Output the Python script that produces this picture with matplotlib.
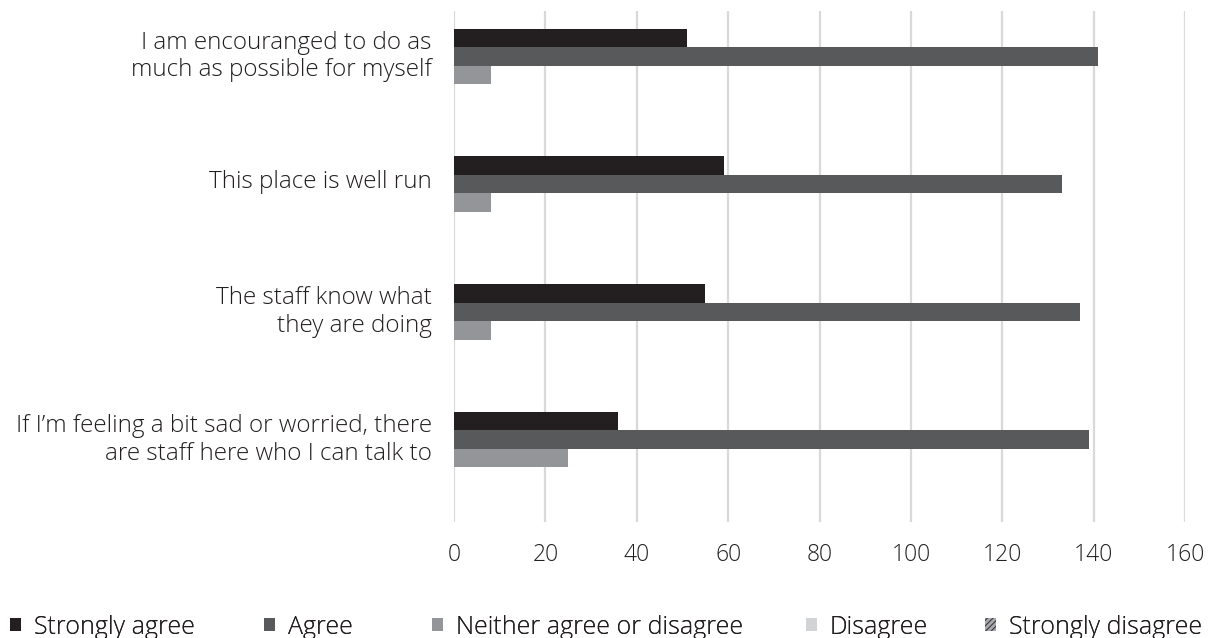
import matplotlib
matplotlib.use("Agg")
import matplotlib.pyplot as plt
import numpy as np

categories = [
    "I am encouranged to do as\nmuch as possible for myself",
    "This place is well run",
    "The staff know what\nthey are doing",
    "If I\u2019m feeling a bit sad or worried, there\nare staff here who I can talk to",
]
series_names = ["Strongly agree", "Agree", "Neither agree or disagree", "Disagree", "Strongly disagree"]
strongly_agree = [51, 59, 55, 36]
agree = [141, 133, 137, 139]
neither = [8, 8, 8, 25]
disagree = [0, 0, 0, 0]
strongly_disagree = [0, 0, 0, 0]
xticks = [0, 20, 40, 60, 80, 100, 120, 140, 160]

values = [strongly_agree, agree, neither, disagree, strongly_disagree]
colors = ["#231f20", "#58595b", "#939598", "#d1d3d4", "#a7a9ac"]
hatches = [None, None, None, None, "//////"]

plt.rcParams['font.family'] = ['Open Sans', 'DejaVu Sans']
plt.rcParams['hatch.color'] = '#3a3a3c'
plt.rcParams['hatch.linewidth'] = 0.8
txt_color = "#231f20"
W = 300

fig = plt.figure(figsize=(12.25, 6.38), dpi=100)
ax = fig.add_axes([454/1225, 1-522/638, (1185-454)/1225, (522-11)/638])

h = 0.145
y = np.arange(len(categories))
handles = []
for j, (vals, c, ht) in enumerate(zip(values, colors, hatches)):
    off = (j - 2) * h
    b = ax.barh(y + off, vals, height=h, color=c, hatch=ht,
                edgecolor='#3a3a3c' if ht else c, linewidth=0,
                label=series_names[j], zorder=3)
    handles.append(b)

ax.set_ylim(len(categories) - 0.5, -0.5)
ax.set_xlim(0, 160)
ax.set_xticks(xticks)
ax.set_xticklabels([str(t) for t in xticks], fontsize=16.5, fontweight=W, color=txt_color)
ax.set_yticks(y - 1.25 * h)
ax.set_yticklabels(categories, ha='right', linespacing=1.2, fontsize=17.5,
                   fontweight=W, color=txt_color)
for s in ax.spines.values():
    s.set_visible(False)
ax.grid(axis='x', color='#d9d9d9', linewidth=1.6, zorder=0)
ax.tick_params(axis='both', length=0)
ax.tick_params(axis='x', pad=15)
ax.tick_params(axis='y', pad=16)

# legend entries placed individually (square left edges in pixels)
leg_x = [10, 264, 432, 806, 985]
for hnd, name, xp in zip(handles, series_names, leg_x):
    lg = fig.legend(handles=[hnd], labels=[name], loc='center left',
                    bbox_to_anchor=(xp / 1225, 1 - 627 / 638), frameon=False,
                    prop={'family': ['Open Sans', 'DejaVu Sans'], 'size': 18, 'weight': W},
                    handlelength=0.45, handleheight=0.45, handletextpad=0.5,
                    borderpad=0.0, borderaxespad=0.0)
    for t in lg.get_texts():
        t.set_color(txt_color)
    fig.add_artist(lg)

fig.savefig("out.png", dpi=100)
